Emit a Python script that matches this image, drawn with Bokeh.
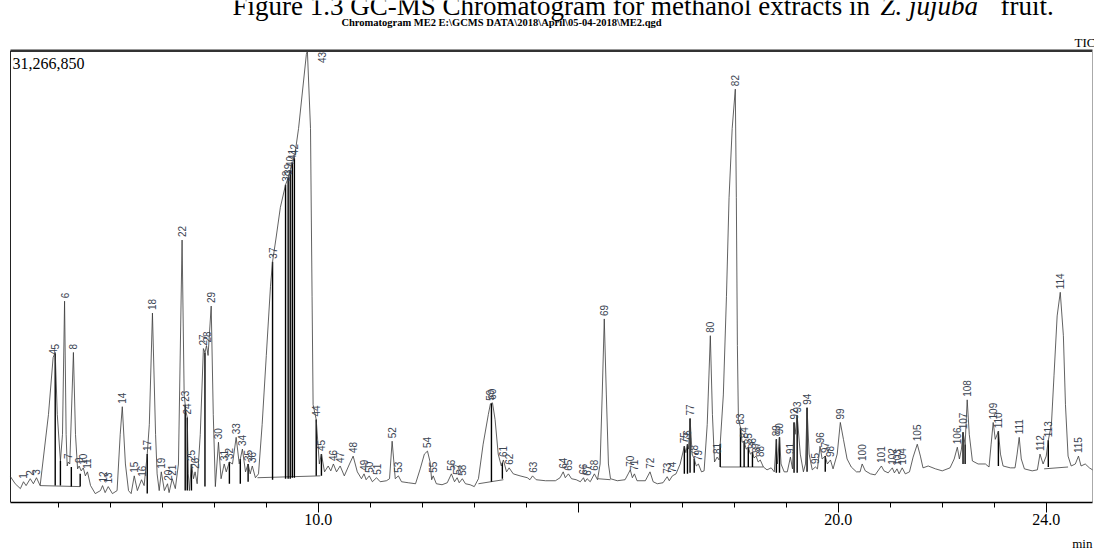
import numpy as np
from bokeh.plotting import figure
from bokeh.models import Range1d, FixedTicker, Label, ColumnDataSource, LinearAxis, CustomJSTickFormatter
from bokeh.core.properties import value
from bokeh.embed import file_html
from bokeh.resources import INLINE

# ---------------- data (retention time in min, intensity in 10^6 counts) ----------------
max_count = 31266850

trace_t = [
    4.08, 4.17, 4.27, 4.33, 4.38, 4.46, 4.52, 4.58, 4.65, 4.81,
    4.90, 4.94, 4.98, 5.04, 5.08, 5.12, 5.15, 5.17, 5.19, 5.22,
    5.29, 5.33, 5.37, 5.40, 5.44, 5.48, 5.52, 5.56, 5.62, 5.71,
    5.81, 5.85, 5.90, 5.96, 6.04, 6.13, 6.19, 6.23, 6.29, 6.35,
    6.40, 6.46, 6.52, 6.60, 6.65, 6.71, 6.75, 6.81, 6.87, 6.90,
    6.94, 6.98, 7.04, 7.10, 7.13, 7.19, 7.25, 7.31, 7.38, 7.42,
    7.44, 7.46, 7.48, 7.50, 7.52, 7.56, 7.60, 7.63, 7.67, 7.73,
    7.79, 7.82, 7.85, 7.88, 7.94, 7.98, 8.02, 8.08, 8.13, 8.19,
    8.23, 8.29, 8.35, 8.42, 8.48, 8.54, 8.60, 8.65, 8.69, 8.73,
    8.79, 8.85, 8.92, 9.00, 9.08, 9.12, 9.19, 9.27, 9.37, 9.42,
    9.46, 9.50, 9.54, 9.62, 9.69, 9.77, 9.79, 9.85, 9.88, 9.90,
    9.96, 10.02, 10.06, 10.12, 10.19, 10.24, 10.29, 10.35, 10.42, 10.50,
    10.60, 10.67, 10.75, 10.83, 10.88, 10.92, 10.98, 11.04, 11.12, 11.19,
    11.31, 11.37, 11.42, 11.48, 11.54, 11.60, 11.73, 11.87, 11.96, 12.04,
    12.10, 12.15, 12.18, 12.21, 12.27, 12.38, 12.48, 12.56, 12.62, 12.67,
    12.71, 12.77, 12.83, 12.92, 13.00, 13.08, 13.17, 13.27, 13.31, 13.35,
    13.40, 13.46, 13.52, 13.56, 13.62, 13.67, 13.75, 13.88, 14.02, 14.07,
    14.12, 14.19, 14.37, 14.56, 14.65, 14.71, 14.75, 14.81, 14.87, 14.96,
    15.04, 15.10, 15.13, 15.17, 15.23, 15.31, 15.37, 15.42, 15.46, 15.50,
    15.54, 15.58, 15.62, 15.75, 15.90, 15.96, 16.00, 16.04, 16.08, 16.13,
    16.29, 16.38, 16.44, 16.52, 16.63, 16.71, 16.75, 16.81, 16.88, 16.96,
    17.04, 17.07, 17.10, 17.12, 17.15, 17.19, 17.23, 17.27, 17.31, 17.37,
    17.42, 17.48, 17.54, 17.58, 17.62, 17.67, 17.71, 17.79, 17.85, 17.90,
    17.96, 18.02, 18.04, 18.06, 18.08, 18.12, 18.15, 18.19, 18.23, 18.27,
    18.31, 18.35, 18.38, 18.42, 18.46, 18.50, 18.56, 18.63, 18.71, 18.77,
    18.81, 18.83, 18.87, 18.90, 18.96, 19.02, 19.08, 19.12, 19.15, 19.17,
    19.21, 19.27, 19.33, 19.37, 19.40, 19.44, 19.50, 19.56, 19.60, 19.65,
    19.69, 19.75, 19.79, 19.85, 19.90, 19.98, 20.04, 20.10, 20.17, 20.25,
    20.35, 20.42, 20.46, 20.52, 20.62, 20.71, 20.83, 20.88, 20.96, 21.04,
    21.08, 21.13, 21.17, 21.23, 21.29, 21.37, 21.44, 21.52, 21.58, 21.63,
    21.73, 21.87, 22.00, 22.15, 22.23, 22.29, 22.33, 22.37, 22.40, 22.44,
    22.48, 22.52, 22.58, 22.69, 22.83, 22.90, 22.94, 22.98, 23.02, 23.08,
    23.12, 23.17, 23.31, 23.40, 23.44, 23.48, 23.52, 23.58, 23.73, 23.83,
    23.88, 23.94, 24.00, 24.04, 24.10, 24.15, 24.21, 24.27, 24.33, 24.37,
    24.42, 24.48, 24.56, 24.62, 24.67, 24.75, 24.83, 24.89,
]
trace_i = [
    1.52, 1.03, 0.69, 1.17, 0.90, 1.38, 1.03, 1.45, 0.90, 5.86,
    9.85, 10.20, 5.86, 2.62, 4.48, 13.78, 4.48, 2.27, 2.55, 2.41,
    10.20, 4.48, 2.07, 2.27, 1.93, 2.14, 1.58, 1.86, 0.90, 0.34,
    0.55, 0.90, 0.41, 0.83, 0.34, 0.55, 4.48, 6.41, 2.41, 0.55,
    0.34, 1.58, 0.55, 1.31, 0.90, 3.10, 5.17, 12.95, 4.48, 1.72,
    0.55, 1.86, 0.55, 1.03, 0.41, 1.38, 0.69, 2.41, 18.05, 7.23,
    6.55, 5.99, 5.65, 1.72, 0.55, 2.41, 1.38, 1.86, 1.03, 4.48,
    10.47, 10.20, 10.68, 9.99, 13.44, 5.86, 0.83, 3.93, 1.38, 2.41,
    1.86, 2.55, 2.41, 4.27, 2.41, 3.45, 1.86, 2.41, 1.72, 2.27,
    1.45, 1.72, 5.17, 9.99, 14.81, 16.54, 18.26, 20.33, 21.91, 22.39,
    22.94, 23.43, 23.77, 25.84, 28.25, 31.01, 31.27, 25.84, 14.12, 6.55,
    5.51, 2.41, 3.10, 1.86, 2.27, 1.93, 2.41, 1.86, 2.27, 1.58,
    2.41, 2.96, 1.86, 1.38, 1.72, 1.31, 1.58, 1.17, 1.45, 1.17,
    1.24, 1.38, 4.00, 1.38, 1.58, 1.17, 1.10, 1.03, 2.07, 3.10,
    3.31, 2.55, 1.31, 1.58, 1.03, 0.96, 1.10, 1.72, 1.17, 1.45,
    1.10, 1.38, 1.03, 0.96, 0.83, 1.38, 3.79, 5.86, 6.61, 6.68,
    5.51, 3.10, 2.27, 2.69, 1.86, 2.14, 1.72, 1.58, 1.45, 1.31,
    1.58, 1.31, 1.24, 1.24, 1.45, 1.86, 1.45, 1.72, 1.38, 1.31,
    1.17, 1.45, 1.17, 1.38, 1.17, 1.72, 1.31, 2.41, 7.23, 12.54,
    7.23, 2.41, 1.38, 1.24, 1.31, 1.72, 2.00, 1.45, 1.72, 1.24,
    1.24, 1.86, 1.17, 1.03, 1.10, 1.52, 1.24, 1.58, 1.72, 2.41,
    3.65, 3.20, 3.79, 3.45, 5.58, 3.10, 2.76, 2.27, 2.41, 1.86,
    1.93, 5.17, 11.37, 5.86, 2.55, 2.89, 2.69, 7.23, 14.12, 21.01,
    25.84, 28.59, 21.01, 10.68, 5.51, 4.96, 3.93, 4.00, 3.45, 3.58,
    3.10, 3.24, 2.83, 2.96, 2.55, 2.69, 2.20, 2.00, 2.14, 1.86,
    4.13, 2.41, 4.27, 2.41, 1.86, 1.86, 2.89, 2.07, 5.31, 4.48,
    5.79, 3.10, 1.86, 2.41, 6.34, 3.10, 2.00, 2.20, 2.07, 3.65,
    2.76, 2.96, 2.41, 2.69, 2.07, 3.10, 5.31, 4.13, 2.76, 2.20,
    1.86, 1.86, 2.41, 1.93, 1.72, 1.65, 2.27, 1.93, 1.79, 2.14,
    1.79, 2.07, 1.72, 2.14, 1.72, 1.86, 2.89, 3.79, 2.96, 2.14,
    2.27, 2.07, 1.93, 2.14, 2.76, 3.58, 2.76, 3.45, 4.62, 3.79,
    6.89, 4.48, 2.62, 2.41, 2.41, 2.20, 3.79, 5.31, 4.13, 4.69,
    3.10, 2.27, 2.14, 2.14, 3.10, 4.27, 2.76, 2.07, 1.93, 2.00,
    3.10, 2.41, 2.96, 4.07, 5.17, 8.61, 12.75, 14.40, 11.37, 6.55,
    2.96, 2.27, 2.41, 2.96, 2.27, 2.41, 2.14, 2.00,
]

peak_no = list(range(1, 116))
peak_t = [
    4.33, 4.46, 4.58, 4.90, 4.94, 5.12, 5.19, 5.29, 5.40, 5.48,
    5.56, 5.85, 5.96, 6.23, 6.46, 6.60, 6.71, 6.81, 6.98, 7.10,
    7.19, 7.38, 7.44, 7.48, 7.56, 7.63, 7.79, 7.85, 7.94, 8.08,
    8.19, 8.29, 8.42, 8.54, 8.65, 8.73, 9.12, 9.37, 9.42, 9.46,
    9.50, 9.54, 9.79, 9.96, 10.06, 10.29, 10.42, 10.67, 10.88, 10.98,
    11.12, 11.42, 11.54, 12.10, 12.21, 12.56, 12.67, 12.77, 13.31, 13.35,
    13.56, 13.67, 14.12, 14.71, 14.81, 15.10, 15.17, 15.31, 15.50, 16.00,
    16.08, 16.38, 16.71, 16.81, 17.04, 17.10, 17.15, 17.23, 17.31, 17.54,
    17.67, 18.02, 18.12, 18.19, 18.27, 18.35, 18.42, 18.50, 18.81, 18.87,
    19.08, 19.15, 19.21, 19.40, 19.56, 19.65, 19.75, 19.85, 20.04, 20.46,
    20.83, 21.04, 21.13, 21.23, 21.52, 22.29, 22.40, 22.48, 22.98, 23.08,
    23.48, 23.88, 24.04, 24.27, 24.62,
]
peak_i = [
    1.17, 1.38, 1.45, 9.85, 10.20, 13.78, 2.55, 10.20, 2.27, 2.14,
    1.86, 0.90, 0.83, 6.41, 1.58, 1.31, 3.10, 12.95, 1.86, 1.03,
    1.38, 18.05, 6.55, 5.65, 2.41, 1.86, 10.47, 10.68, 13.44, 3.93,
    2.41, 2.55, 4.27, 3.45, 2.41, 2.27, 16.54, 21.91, 22.39, 22.94,
    23.43, 23.77, 31.27, 5.51, 3.10, 2.41, 2.27, 2.96, 1.72, 1.58,
    1.45, 4.00, 1.58, 3.31, 1.58, 1.72, 1.45, 1.38, 6.61, 6.68,
    2.69, 2.14, 1.58, 1.86, 1.72, 1.45, 1.38, 1.72, 12.54, 2.00,
    1.72, 1.86, 1.52, 1.58, 3.65, 3.79, 5.58, 2.76, 2.41, 11.37,
    2.89, 28.59, 4.96, 4.00, 3.58, 3.24, 2.96, 2.69, 4.13, 4.27,
    2.89, 5.31, 5.79, 6.34, 2.20, 3.65, 2.96, 2.69, 5.31, 2.41,
    2.27, 2.14, 2.07, 2.14, 3.79, 3.58, 4.62, 6.89, 5.31, 4.69,
    4.27, 3.10, 4.07, 14.40, 2.96,
]
# label of the clipped top peak is printed beside it
label_override = {43: (10.08, 30.20)}

# integration drop lines (time, top, bottom)
drop_t = [4.94, 5.04, 5.25, 5.42, 6.71, 7.44, 7.48, 7.56, 7.82, 8.29,
          8.50, 8.65, 9.12, 9.37, 9.42, 9.46, 9.50, 9.54, 9.96, 10.06,
          13.33, 13.54, 17.04, 17.10, 17.15, 17.23, 17.73, 18.12, 18.19, 18.27,
          18.35, 18.81, 18.87, 19.15, 19.21, 19.40, 19.75, 22.40, 22.44, 23.08,
          24.04]
drop_top = [10.13, 2.62, 2.20, 1.72, 3.10, 6.55, 5.65, 2.41, 10.20, 2.55,
            2.76, 2.41, 16.54, 21.91, 22.39, 22.94, 23.43, 23.77, 5.51, 3.10,
            6.65, 2.50, 3.65, 3.79, 5.58, 2.76, 3.80, 4.96, 4.00, 3.58,
            3.24, 4.13, 4.27, 5.31, 5.79, 6.34, 2.96, 4.62, 3.79, 4.69,
            4.07]
drop_bot = [0.90, 0.90, 0.83, 0.83, 0.34, 0.55, 0.55, 0.55, 0.83, 1.03,
            1.03, 1.17, 1.31, 1.38, 1.38, 1.38, 1.45, 1.45, 1.58, 1.58,
            1.17, 1.38, 1.72, 1.72, 1.79, 1.79, 2.20, 2.20, 2.20, 2.20,
            2.20, 1.79, 1.79, 1.79, 1.79, 1.86, 1.86, 2.41, 2.41, 2.27,
            2.20]

# integration baselines
base_t = [[4.65, 5.42], [8.83, 10.04], [13.08, 13.56], [15.38, 15.62], [17.73, 18.56], [23.96, 24.42]]
base_i = [[0.90, 0.83], [1.45, 1.58], [1.03, 1.31], [1.38, 1.31], [2.20, 2.20], [2.07, 2.20]]

x_ticks = [10, 15, 20, 24]
x_minor = list(range(5, 25))
x_tick_labels = {10: "10.0", 15: "", 20: "20.0", 24: "24.0"}
x_unit = "min"

caption_main = "Figure 1.3 GC-MS Chromatogram for methanol extracts  in"
caption_italic = "Z. jujuba"
caption_end = "fruit."
chrom_title = "Chromatogram ME2 E:\\GCMS DATA\\2018\\April\\05-04-2018\\ME2.qgd"
trace_name = "TIC"

assert len(trace_t) == len(trace_i)
assert len(peak_t) == len(peak_i) == len(peak_no)
assert len(drop_t) == len(drop_top) == len(drop_bot)

# ---------------- figure ----------------
W, H = 1094, 553
X0, X1 = 4.08, 24.89             # time span of the chromatogram box
Y0, Y1 = -0.28, max_count / 1e6  # intensity span of the chromatogram box
FL, FR, FT, FB = 10, 1092, 51, 509   # box edges in page pixels


def px_t(px):
    return X0 + (px - FL) * (X1 - X0) / (FR - FL)


def py_i(py):
    return Y0 + (FB - py) * (Y1 - Y0) / (FB - FT)


p = figure(width=W, height=H, x_range=Range1d(px_t(0), px_t(W)), y_range=Range1d(Y0, py_i(0)),
           output_backend="svg", toolbar_location=None, y_axis_location=None,
           min_border_left=0, min_border_right=0, min_border_top=0,
           min_border_bottom=H - FB)
p.background_fill_color = "white"
p.border_fill_color = "white"
p.xgrid.visible = False
p.ygrid.visible = False
p.outline_line_color = None

serif = "Liberation Serif"

ax = p.xaxis[0]
ax.ticker = FixedTicker(ticks=x_ticks, minor_ticks=x_minor)
ax.major_label_overrides = x_tick_labels
ax.bounds = (X0, X1)
ax.axis_line_color = "black"
ax.axis_line_width = 1.5
ax.major_tick_out = 10
ax.major_tick_in = 0
ax.minor_tick_out = 5
ax.minor_tick_in = 0
ax.major_tick_line_color = "black"
ax.minor_tick_line_color = "black"
ax.major_label_standoff = 1
ax.major_label_text_font = serif
ax.major_label_text_font_size = "16px"
ax.major_label_text_color = "black"

# unit label under the right end of the time axis
unit_axis = LinearAxis(ticker=FixedTicker(ticks=[px_t(1086)]),
                       formatter=CustomJSTickFormatter(code=f"return '{x_unit}';"),
                       axis_line_color=None, major_tick_line_color=None, minor_tick_line_color=None,
                       major_label_standoff=2, major_label_text_font=serif,
                       major_label_text_font_size="13px", major_label_text_color="black")
p.add_layout(unit_axis, "below")

# chromatogram box
p.segment(x0=[X0, X0, X1], y0=[Y1, Y0, Y0], x1=[X1, X0, X1], y1=[Y1, Y1, Y1],
          line_color=["#333333", "#222222", "#aaaaaa"], line_width=[2.5, 1, 1])

p.multi_line(xs=base_t, ys=base_i, line_color="#666666", line_width=1)
p.segment(x0=drop_t, y0=drop_bot, x1=drop_t, y1=drop_top, line_color="black", line_width=1.4)
p.line(trace_t, trace_i, line_color="#3a3a3a", line_width=0.8)

lab_t = [label_override.get(n, (t, v))[0] for n, t, v in zip(peak_no, peak_t, peak_i)]
lab_i = [label_override.get(n, (t, v))[1] for n, t, v in zip(peak_no, peak_t, peak_i)]
src = ColumnDataSource(dict(t=lab_t, i=lab_i, txt=[str(n) for n in peak_no]))
p.text(x="t", y="i", text="txt", source=src, angle=np.pi / 2, text_align="left",
       text_baseline="middle", text_font=value("Liberation Sans"), text_font_size=value("10px"),
       text_color="#3b4452", y_offset=-3)

p.add_layout(Label(x=px_t(12), y=py_i(64), text=f"{max_count:,}", text_font=serif,
                   text_font_size="16px", text_color="black", text_baseline="alphabetic"))
p.add_layout(Label(x=px_t(1074), y=py_i(43), text=trace_name, text_font=serif,
                   text_font_size="13px", text_color="black", text_baseline="alphabetic"))
p.add_layout(Label(x=px_t(501), y=py_i(22), text=chrom_title, text_font=serif,
                   text_font_size="10.5px", text_font_style="bold", text_color="black",
                   text_align="center", text_baseline="alphabetic"))
p.add_layout(Label(x=px_t(232), y=py_i(6), text=caption_main, text_font=serif,
                   text_font_size="27px", text_color="black", text_baseline="alphabetic"))
p.add_layout(Label(x=px_t(880), y=py_i(6), text=caption_italic, text_font=serif,
                   text_font_size="27px", text_font_style="italic", text_color="black",
                   text_baseline="alphabetic"))
p.add_layout(Label(x=px_t(1000), y=py_i(6), text=caption_end, text_font=serif,
                   text_font_size="27px", text_color="black", text_baseline="alphabetic"))

open("out.html", "w").write(file_html(p, INLINE))
